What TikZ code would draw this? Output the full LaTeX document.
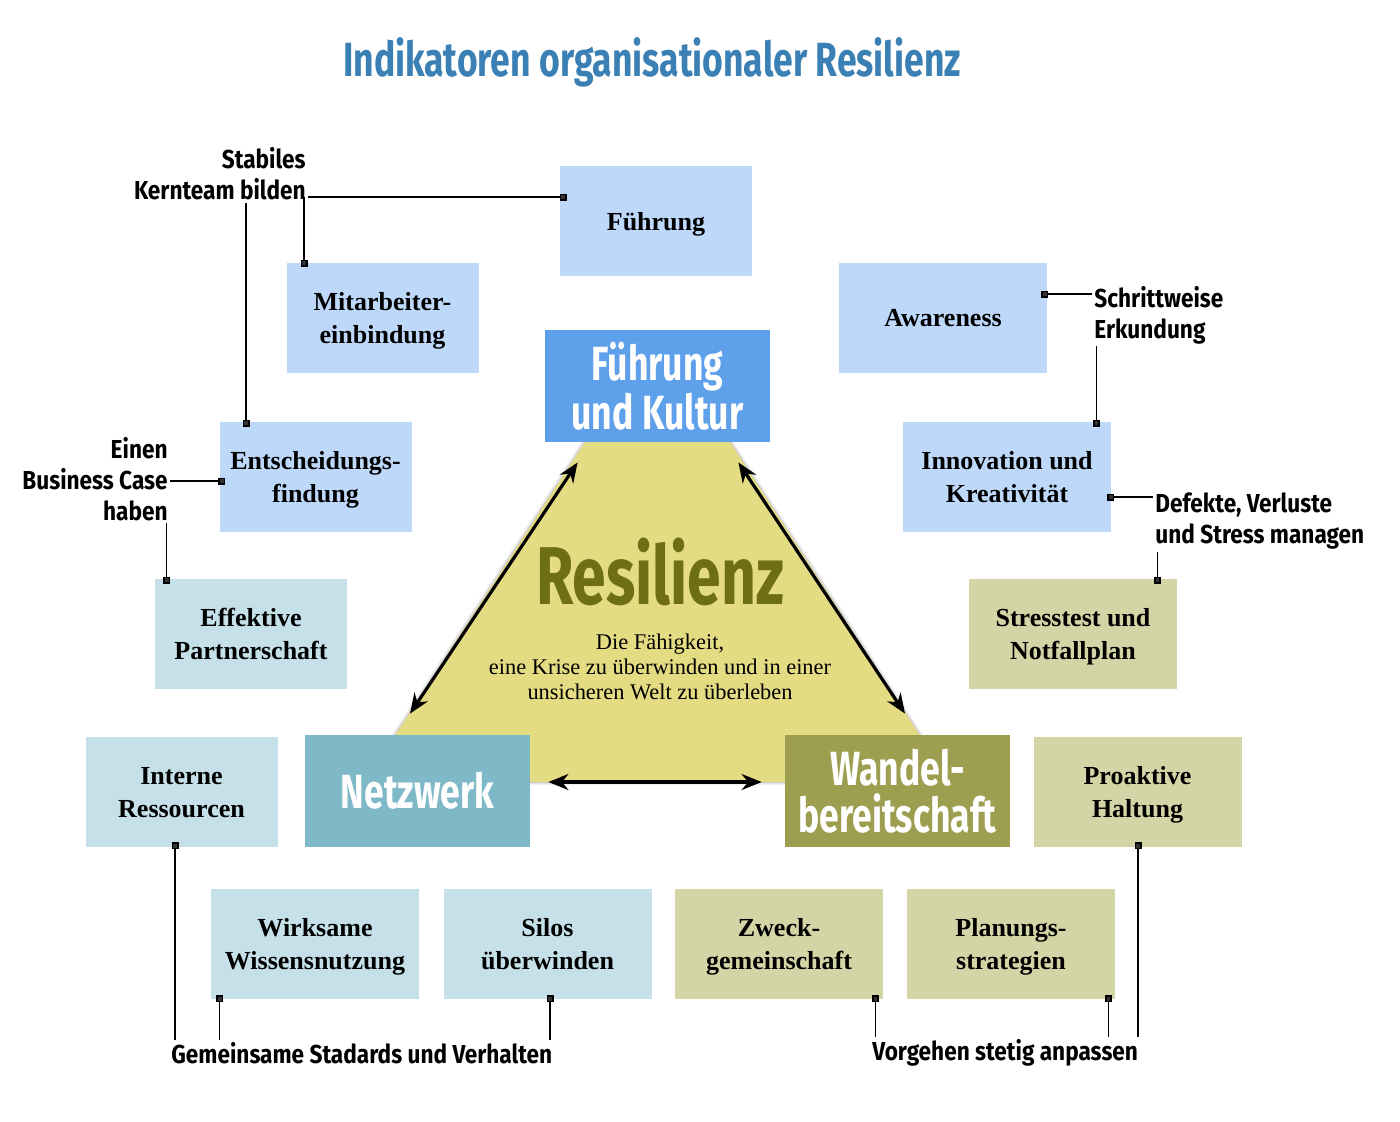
\documentclass[tikz,border=0pt]{standalone}
\usepackage{fontspec}
\setmainfont{Liberation Serif}
\newfontfamily\condfont[FakeStretch=0.74]{Fira Sans}
\newfontfamily\notefont[FakeStretch=0.87]{Fira Sans}
\usetikzlibrary{arrows.meta,positioning,shadows.blur}
\definecolor{titleblue}{RGB}{58,128,180}
\definecolor{leadblue}{RGB}{95,160,235}
\definecolor{lightblue}{RGB}{190,216,250}
\definecolor{netteal}{RGB}{127,185,200}
\definecolor{lightteal}{RGB}{197,224,232}
\definecolor{changeolive}{RGB}{158,158,80}
\definecolor{lightolive}{RGB}{212,213,166}
\definecolor{resyellow}{RGB}{228,220,130}
\definecolor{resolive}{RGB}{110,110,20}
\tikzset{
    box/.style={rectangle, fill=#1, minimum width=96pt, minimum height=55pt,
                inner sep=0pt, align=center, text depth=0pt,
                font=\fontsize{13}{16.5}\selectfont\bfseries},
    widebox/.style={box=#1, minimum width=104pt},
    mainbox/.style={rectangle, fill=#1, minimum width=112.5pt, minimum height=56pt,
                    inner sep=0pt, align=center, text=white,
                    font=\condfont\bfseries\fontsize{24}{23.5}\selectfont},
    note/.style={font=\notefont\bfseries\fontsize{13}{15.5}\selectfont, inner sep=1pt},
    pin/.style={{Square[length=3.5pt,width=3.5pt]}-, line width=0.8pt},
    dbl/.style={{Stealth[length=10pt,width=8pt]}-{Stealth[length=10pt,width=8pt]}, line width=1.6pt},
}
\begin{document}
\begin{tikzpicture}[x=0.5pt, y=-0.5pt]
    \useasboundingbox (0,0) rectangle (1400,1121);

    % Title
    \node[font=\condfont\bfseries\fontsize{24}{24}\selectfont, text=titleblue] (title) at (652,62)
        {Indikatoren organisationaler Resilienz};

    % Core triangle
    \fill[resyellow, blur shadow={shadow blur steps=6, shadow xshift=0pt, shadow yshift=0pt}]
        (585,442) -- (730,442) -- (950,782) -- (365,782) -- cycle;
    \node[font=\condfont\bfseries\fontsize{41}{41}\selectfont, text=resolive] (res) at (660,572) {Resilienz};
    \node[font=\fontsize{11.2}{12.6}\selectfont, align=center] (desc) at (660,667)
        {Die Fähigkeit,\\eine Krise zu überwinden und in einer\\unsicheren Welt zu überleben};

    % Main pillars
    \node[mainbox=leadblue]    (kultur) at (657.5,386) {Führung\\und Kultur};
    \node[mainbox=netteal]     (netz)   at (417.5,791) {Netzwerk};
    \node[mainbox=changeolive] (wandel) at (897.5,791) {Wandel-\\bereitschaft};

    % Indicators
    \node[box=lightblue]      (fuehr)   at (656,221)    {Führung};
    \node[box=lightblue]      (mitarb)  at (382.5,318) {Mitarbeiter-\\einbindung};
    \node[widebox=lightblue]  (aware)   at (943,318)  {Awareness};
    \node[box=lightblue]      (entsch)  at (315.5,477)  {Entscheidungs-\\findung};
    \node[widebox=lightblue]  (innov)   at (1007,477)   {Innovation und\\Kreativität};
    \node[box=lightteal]      (partner) at (251,634)    {Effektive\\Partnerschaft};
    \node[widebox=lightolive] (stress)  at (1073,634)   {Stresstest und\\Notfallplan};
    \node[box=lightteal]      (intern)  at (181.5,792)  {Interne\\Ressourcen};
    \node[widebox=lightolive] (proakt)  at (1137.5,792) {Proaktive\\Haltung};
    \node[widebox=lightteal]  (wissen)  at (315,944)    {Wirksame\\Wissensnutzung};
    \node[widebox=lightteal]  (silos)   at (547.5,944)  {Silos\\überwinden};
    \node[widebox=lightolive] (zweck)   at (779,944)    {Zweck-\\gemeinschaft};
    \node[widebox=lightolive] (planung) at (1011,944)   {Planungs-\\strategien};

    % Relations between pillars
    \draw[dbl] ([shift={(33,20)}]kultur.south west) -- ([shift={(-7.5,-21)}]netz.north);
    \draw[dbl] ([shift={(-32,20)}]kultur.south east) -- ([shift={(7.5,-21)}]wandel.north);
    \draw[dbl] ([shift={(18,-9)}]netz.east) -- ([shift={(-23,-9)}]wandel.west);

    % Notes
    \node[note, align=right, anchor=east] (kern)     at (308,174)  {Stabiles\\Kernteam bilden};
    \node[note, align=right, anchor=east] (bcase)    at (170,479)  {Einen\\Business Case\\haben};
    \node[note, align=left, anchor=west]  (schritt)  at (1092,315) {Schrittweise\\Erkundung};
    \node[note, align=left, anchor=west]  (defekt)   at (1153,521) {Defekte, Verluste\\und Stress managen};
    \node[note, anchor=west]              (gemein)   at (169,1053) {Gemeinsame Stadards und Verhalten};
    \node[note, anchor=west]              (vorgehen) at (870,1053) {Vorgehen stetig anpassen};

    % Pins
    \coordinate (pFue) at ([shift={(7,-24)}]fuehr.west);
    \coordinate (pMit) at ([shift={(18,4)}]mitarb.north west);
    \coordinate (pEnt) at ([shift={(27,5)}]entsch.north west);
    \coordinate (pEnb) at ([shift={(6,4)}]entsch.west);
    \coordinate (pPar) at ([shift={(12,5)}]partner.north west);
    \coordinate (pAwa) at ([shift={(-6,-24)}]aware.east);
    \coordinate (pInn) at ([shift={(-15,5)}]innov.north east);
    \coordinate (pInb) at ([shift={(-4,20)}]innov.east);
    \coordinate (pStr) at ([shift={(-20,5)}]stress.north east);
    \coordinate (pInt) at ([shift={(-6.5,-5)}]intern.south);
    \coordinate (pWis) at ([shift={(9,-4)}]wissen.south west);
    \coordinate (pSil) at ([shift={(2.5,-4)}]silos.south);
    \coordinate (pZwe) at ([shift={(-8,-4)}]zweck.south east);
    \coordinate (pPla) at ([shift={(-7,-4)}]planung.south east);
    \coordinate (pPro) at ([shift={(0.5,-5)}]proakt.south);

    % Note connectors
    \draw[pin] (pFue) -- (pFue -| kern.east);
    \draw[pin] (pMit) -- (pMit |- pFue);
    \draw[pin] (pEnt) -- (pEnt |- kern.south);
    \draw[pin] (pEnb) -- (pEnb -| bcase.east);
    \draw[pin] (pPar) -- (pPar |- bcase.south);
    \draw[pin] (pAwa) -- (pAwa -| schritt.west);
    \draw[pin] (pInn) -- (pInn |- schritt.south);
    \draw[pin] (pInb) -- (pInb -| defekt.west);
    \draw[pin] (pStr) -- (pStr |- defekt.south);
    \draw[pin] (pInt) -- (pInt |- gemein.north);
    \draw[pin] (pWis) -- (pWis |- gemein.north);
    \draw[pin] (pSil) -- (pSil |- gemein.north);
    \draw[pin] (pZwe) -- (pZwe |- vorgehen.north);
    \draw[pin] (pPla) -- (pPla |- vorgehen.north);
    \draw[pin] (pPro) -- (pPro |- vorgehen.north);
\end{tikzpicture}
\end{document}
